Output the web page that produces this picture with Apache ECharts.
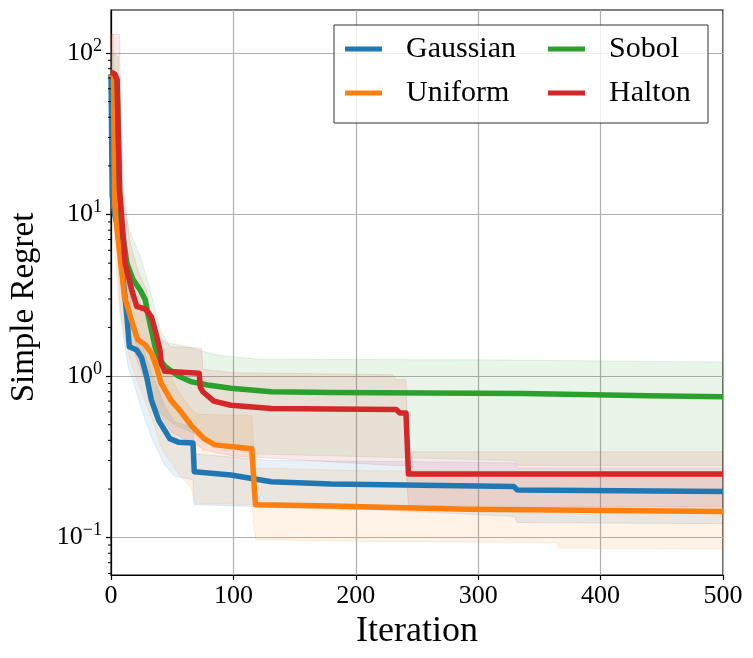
<!DOCTYPE html>
<html>
<head>
<meta charset="utf-8">
<script src="https://cdn.jsdelivr.net/npm/echarts@6/dist/echarts.min.js"></script>
<style>
  html, body { margin: 0; padding: 0; background: #fff; }
  #chart { width: 753px; height: 658px; }
</style>
</head>
<body>
<div id="chart"></div>
<script>
// mean curves (iteration, simple regret)
const gaussianX = [0, 1, 3, 6, 10, 13, 15, 21, 25, 29, 33, 39, 44, 48, 55, 67, 68, 98, 131, 180, 329, 332, 500];
const gaussianY = [74, 13, 10, 8, 3.95, 2.33, 1.52, 1.45, 1.3, 1.0, 0.71, 0.53, 0.46, 0.41, 0.39, 0.385, 0.256, 0.244, 0.222, 0.215, 0.207, 0.197, 0.193];

const uniformX = [0, 1, 2, 3, 5, 8, 11, 15, 20, 22, 28, 33, 37, 41, 49, 58, 66, 76, 85, 115, 118, 180, 291, 365, 366, 500];
const uniformY = [75, 74, 70, 12, 8, 5, 3.1, 2.45, 1.84, 1.68, 1.56, 1.39, 1.15, 0.9, 0.71, 0.59, 0.49, 0.41, 0.375, 0.355, 0.16, 0.157, 0.15, 0.148, 0.146, 0.145];

const sobolX = [0, 3, 5, 6, 7, 9, 13, 18, 24, 28, 30, 33, 36, 40, 44, 48, 55, 66, 79, 98, 131, 180, 337, 440, 500];
const sobolY = [76, 74, 68, 30, 14, 8, 5, 3.95, 3.4, 2.96, 2.45, 1.93, 1.52, 1.26, 1.15, 1.09, 1.0, 0.92, 0.88, 0.84, 0.8, 0.79, 0.78, 0.755, 0.746];

const haltonX = [0, 3, 5, 6, 7, 9, 11.5, 17, 21, 28, 33, 36, 40, 41, 44, 72, 73, 75, 84, 98, 131, 180, 233, 236, 241, 243, 500];
const haltonY = [76, 74, 68, 30, 14, 9, 5, 3.4, 2.7, 2.6, 2.33, 1.93, 1.45, 1.2, 1.07, 1.04, 0.85, 0.8, 0.7, 0.66, 0.63, 0.626, 0.62, 0.59, 0.59, 0.248, 0.248];

// shaded bands (iteration, lower, upper)
const gaussianBandX = [0, 2, 4, 7, 10, 14.5, 17, 25, 33, 44, 52, 67, 68, 130, 250, 330, 332, 500];
const gaussianLo = [20, 10, 8, 3, 1.8, 1.09, 1.0, 0.62, 0.42, 0.28, 0.24, 0.228, 0.16, 0.155, 0.145, 0.135, 0.124, 0.122];
const gaussianHi = [110, 30, 18, 13, 11, 5, 2.2, 1.6, 1.05, 0.65, 0.52, 0.48, 0.33, 0.3, 0.295, 0.29, 0.27, 0.27];

const uniformBandX = [0, 2, 3, 6, 8, 11, 15, 20, 25, 28, 33, 36, 40, 44, 55, 66, 68, 70, 115, 118, 200, 365, 366, 500];
const uniformLo = [25, 20, 6, 3, 2.2, 1.8, 1.3, 1.0, 0.8, 0.7, 0.55, 0.48, 0.38, 0.33, 0.25, 0.2, 0.165, 0.163, 0.16, 0.097, 0.095, 0.093, 0.086, 0.085];
const uniformHi = [130, 130, 50, 15, 10, 6, 4, 3.0, 2.6, 2.3, 2.0, 1.7, 1.4, 1.2, 0.8, 0.62, 0.6, 0.58, 0.57, 0.27, 0.26, 0.255, 0.25, 0.25];

const sobolBandX = [0, 5, 8, 13, 20, 30, 36, 52, 60, 80, 115, 330, 332, 500];
const sobolLo = [30, 25, 4, 2.5, 1.6, 1.0, 0.63, 0.5, 0.47, 0.4, 0.33, 0.3, 0.28, 0.28];
const sobolHiX = [0, 6, 7, 10, 15, 25, 32, 36, 41, 47, 62, 86, 120, 300, 500];
const sobolHi = [100, 95, 25, 12, 8, 5.2, 3.4, 2.6, 1.85, 1.6, 1.52, 1.35, 1.27, 1.26, 1.22];

const haltonBandX = [0, 7, 8, 10, 15, 22, 29, 36, 49, 74, 75, 100, 230, 233, 241, 243, 500];
const haltonLo = [30, 25, 5, 3, 1.8, 1.2, 0.9, 0.65, 0.45, 0.36, 0.35, 0.32, 0.28, 0.28, 0.28, 0.157, 0.155];
const haltonHi = [130, 130, 40, 15, 7, 4.5, 3.4, 1.85, 1.52, 1.49, 1.1, 1.05, 1.02, 0.95, 0.95, 0.34, 0.34];

const names = ['Gaussian', 'Uniform', 'Sobol', 'Halton'];
const colors = ['#1f77b4', '#ff7f0e', '#2ca02c', '#d62728'];
const fills = ['rgba(31,119,180,0.1)', 'rgba(255,127,14,0.1)', 'rgba(44,160,44,0.1)', 'rgba(214,39,40,0.1)'];
const edges = ['rgba(31,119,180,0.12)', 'rgba(255,127,14,0.12)', 'rgba(44,160,44,0.12)', 'rgba(214,39,40,0.12)'];

const yTicks = [0.1, 1, 10, 100];
const minorTicks = [];
[0.01, 0.1, 1, 10, 100].forEach(d => {
    for (let k = 2; k <= 9; k++) {
        const v = +(k * d).toPrecision(3);
        if (v > 0.0587 && v < 184.5) minorTicks.push(v);
    }
});

const font = 'Liberation Serif';
const zip = (xs, ys) => xs.map((x, i) => [x, ys[i]]);

// band polygon: upper edge forward, lower edge back
function bandSeries(idx, loX, lo, hiX, hi) {
    return {
        type: 'custom',
        name: names[idx] + ' band',
        z: 1,
        silent: true,
        data: [[loX[0], lo[0]]],
        renderItem: (params, api) => {
            const pts = [];
            hiX.forEach((x, i) => pts.push(api.coord([x, hi[i]])));
            for (let i = loX.length - 1; i >= 0; i--) pts.push(api.coord([loX[i], lo[i]]));
            return {
                type: 'polygon',
                shape: {points: pts},
                style: {fill: fills[idx], stroke: edges[idx], lineWidth: 1}
            };
        }
    };
}

function lineSeries(idx, xs, ys) {
    return {
        type: 'line',
        name: names[idx],
        z: 3,
        data: zip(xs, ys),
        symbol: 'none',
        color: colors[idx],
        lineStyle: {width: 5.5, color: colors[idx], join: 'round'}
    };
}

const chart = echarts.init(document.getElementById('chart'));
const option = {
    animation: false,
    backgroundColor: '#fff',
    textStyle: {fontFamily: font, color: '#000'},
    grid: {left: 109, right: 30, top: 10, bottom: 83, show: true, borderColor: '#000', borderWidth: 1.2, backgroundColor: 'transparent'},
    legend: {
        left: 334, top: 25, width: 355,
        padding: [7, 10, 13, 11],
        itemGap: 10,
        icon: 'rect', itemWidth: 37, itemHeight: 5,
        selectedMode: false,
        backgroundColor: 'rgba(255,255,255,0.8)',
        borderColor: '#333', borderWidth: 1, borderRadius: 0,
        textStyle: {fontFamily: font, fontSize: 30, color: '#000', lineHeight: 34, padding: [0, 0, 0, 19]},
        data: [
            {name: 'Gaussian', textStyle: {width: 132}},
            {name: 'Sobol', textStyle: {width: 89}},
            {name: 'Uniform', textStyle: {width: 132}},
            {name: 'Halton', textStyle: {width: 89}}
        ]
    },
    xAxis: {
        type: 'value', min: 0, max: 500, interval: 100,
        name: 'Iteration', nameLocation: 'middle', nameGap: 37,
        nameTextStyle: {fontFamily: font, fontSize: 36, color: '#000'},
        axisLine: {show: true, lineStyle: {color: '#000', width: 1.2}},
        axisTick: {show: true, length: 5, lineStyle: {color: '#000', width: 1.2}},
        axisLabel: {fontFamily: font, fontSize: 26, color: '#000', margin: 8},
        splitLine: {show: true, lineStyle: {color: '#b0b0b0', width: 1.2}}
    },
    yAxis: {
        type: 'log', logBase: 10, min: 0.0587, max: 184.5,
        name: 'Simple Regret', nameLocation: 'middle', nameGap: 70,
        nameTextStyle: {fontFamily: font, fontSize: 33, color: '#000', padding: [0, 30, 0, 0]},
        axisLine: {show: true, lineStyle: {color: '#000', width: 1.2}},
        axisTick: {show: true, length: 5, lineStyle: {color: '#000', width: 1.2}, customValues: yTicks},
        axisLabel: {
            customValues: yTicks,
            margin: 9,
            formatter: v => {
                const e = Math.round(Math.log10(v));
                return '{b|10}{s|' + (e < 0 ? '\u2212' : '') + Math.abs(e) + '}';
            },
            rich: {
                b: {fontFamily: font, fontSize: 26, color: '#000'},
                s: {fontFamily: font, fontSize: 18, color: '#000', padding: [0, 0, 14, 0]}
            }
        },
        splitLine: {show: true, lineStyle: {color: '#b0b0b0', width: 1.2}}
    },
    series: [
        bandSeries(0, gaussianBandX, gaussianLo, gaussianBandX, gaussianHi),
        bandSeries(1, uniformBandX, uniformLo, uniformBandX, uniformHi),
        bandSeries(2, sobolBandX, sobolLo, sobolHiX, sobolHi),
        bandSeries(3, haltonBandX, haltonLo, haltonBandX, haltonHi),
        lineSeries(0, gaussianX, gaussianY),
        lineSeries(1, uniformX, uniformY),
        lineSeries(2, sobolX, sobolY),
        lineSeries(3, haltonX, haltonY),
        {
            // log minor ticks on the left spine
            type: 'custom',
            name: 'minor',
            silent: true,
            z: 5,
            data: minorTicks.map(v => [0, v]),
            renderItem: (params, api) => {
                const p = api.coord([0, api.value(1)]);
                return {
                    type: 'line',
                    shape: {x1: p[0] - 3, y1: p[1], x2: p[0], y2: p[1]},
                    style: {stroke: '#000', lineWidth: 1}
                };
            }
        }
    ]
};
chart.setOption(option);
</script>
</body>
</html>
